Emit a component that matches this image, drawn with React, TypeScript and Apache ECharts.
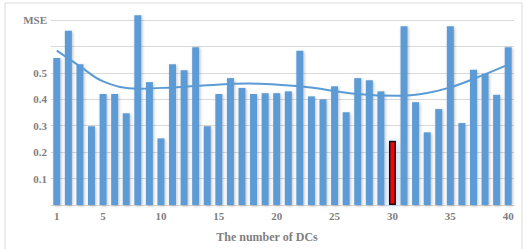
import React, { useEffect, useRef } from "react";
import * as echarts from "echarts";

const categories = ["1","2","3","4","5","6","7","8","9","10","11","12","13","14","15","16","17","18","19","20","21","22","23","24","25","26","27","28","29","30","31","32","33","34","35","36","37","38","39","40"];
const mseValues = [0.556,0.659,0.533,0.298,0.42,0.42,0.347,0.718,0.465,0.252,0.533,0.51,0.597,0.298,0.42,0.48,0.443,0.42,0.423,0.423,0.43,0.584,0.411,0.4,0.449,0.351,0.48,0.472,0.43,0.243,0.676,0.389,0.275,0.363,0.676,0.31,0.512,0.497,0.417,0.597];
const highlightCategory = "30";
const trendX = [1,3,5,8,11,14,17.5,22,27,30.5,33,35,37,40];
const trendY = [0.584,0.525,0.468,0.44,0.445,0.453,0.46,0.449,0.42,0.413,0.424,0.445,0.477,0.531];
const xTickLabels = ["1","5","10","15","20","25","30","35","40"];

const FONT = "'Liberation Serif', 'Times New Roman', serif";
const LABEL_COLOR = "#7f7f7f";

export default function App() {
  const ref = useRef<HTMLDivElement>(null);
  useEffect(() => {
    if (!ref.current) return;
    const chart = echarts.init(ref.current, undefined, { renderer: "svg" });
    const barData = mseValues.map((v, i) =>
      categories[i] === highlightCategory
        ? {
            value: v,
            itemStyle: {
              color: "#ff0000",
              borderColor: "#111",
              borderWidth: 1.5,
              shadowColor: "rgba(120,180,240,0.7)",
              shadowBlur: 8,
            },
          }
        : v
    );
    chart.setOption({
      animation: false,
      backgroundColor: "#ffffff",
      grid: { left: 51, right: 12, top: 20, bottom: 44 },
      xAxis: [
        {
          type: "category",
          data: categories,
          boundaryGap: true,
          axisLine: { show: true, lineStyle: { color: "#d9d9d9" } },
          axisTick: { show: false },
          axisLabel: {
            interval: (_i: number, v: string) => xTickLabels.includes(v),
            margin: 5,
            fontFamily: FONT,
            fontWeight: "bold",
            fontSize: 11,
            color: LABEL_COLOR,
          },
        },
        {
          type: "value",
          min: 0.5,
          max: 40.5,
          show: false,
        },
      ],
      yAxis: {
        type: "value",
        min: 0,
        max: 0.7,
        interval: 0.1,
        axisLine: { show: false },
        axisTick: { show: false },
        splitLine: { lineStyle: { color: "#d9d9d9", width: 1 } },
        axisLabel: {
          margin: 4,
          fontFamily: FONT,
          fontWeight: "bold",
          fontSize: 11,
          color: LABEL_COLOR,
          formatter: (v: number) => {
            const k = Math.round(v * 10);
            if (k === 0 || k === 6) return "";
            if (k === 7) return "MSE";
            return (k / 10).toFixed(1);
          },
        },
      },
      series: [
        {
          type: "bar",
          data: barData,
          barWidth: 7,
          clip: false,
          itemStyle: {
            color: "#5b9bd5",
            shadowColor: "rgba(0,0,0,0.25)",
            shadowBlur: 3,
            shadowOffsetX: 1,
            shadowOffsetY: 1,
          },
        },
        {
          type: "line",
          xAxisIndex: 1,
          data: trendX.map((x, i) => [x, trendY[i]]),
          smooth: 0.4,
          symbol: "none",
          lineStyle: { color: "#5b9bd5", width: 2 },
          z: 5,
        },
      ],
      graphic: [
        {
          type: "rect",
          shape: { x: 5, y: 3, width: 517, height: 260 },
          style: { fill: "none", stroke: "#d9d9d9", lineWidth: 1 },
          silent: true,
        },
        {
          type: "text",
          x: 267,
          y: 237,
          style: {
            text: "The number of DCs",
            fontFamily: FONT,
            fontWeight: "bold",
            fontSize: 12,
            fill: LABEL_COLOR,
            align: "center",
            verticalAlign: "middle",
          },
        },
      ],
    });
    return () => chart.dispose();
  }, []);
  return (
    <div
      ref={ref}
      style={{ position: "fixed", left: 0, top: 0, width: 526, height: 249 }}
    />
  );
}
